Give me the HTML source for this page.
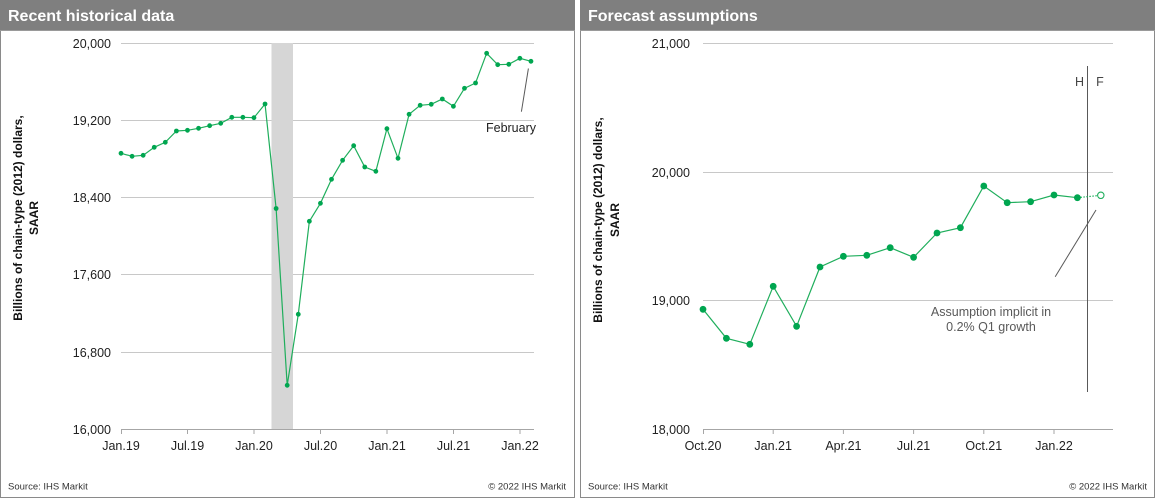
<!DOCTYPE html>
<html>
<head>
<meta charset="utf-8">
<style>
  html,body{margin:0;padding:0;background:#fff;}
  svg{display:block;}
  text{font-family:"Liberation Sans",Arial,sans-serif;}
</style>
</head>
<body>
<svg width="1159" height="499" viewBox="0 0 1159 499" xmlns="http://www.w3.org/2000/svg">
  <!-- LEFT PANEL -->
  <rect x="0.5" y="0.5" width="574" height="497" fill="#fff" stroke="#8a8a8a" stroke-width="1"/>
  <rect x="0" y="0" width="575" height="30" fill="#7f7f7f"/>
  <line x1="0" y1="30.5" x2="575" y2="30.5" stroke="#9a9a9a"/>
  <text x="8" y="21" font-size="16" font-weight="bold" fill="#fff">Recent historical data</text>

  <!-- recession band -->
  <rect x="271.5" y="43" width="21.5" height="386" fill="#d6d6d6"/>

  <!-- gridlines -->
  <g stroke="#c8c8c8" stroke-width="1">
    <line x1="121" y1="43.5" x2="534" y2="43.5"/>
    <line x1="121" y1="120.5" x2="534" y2="120.5"/>
    <line x1="121" y1="197.5" x2="534" y2="197.5"/>
    <line x1="121" y1="274.5" x2="534" y2="274.5"/>
    <line x1="121" y1="352.5" x2="534" y2="352.5"/>
  </g>
  <rect x="271.5" y="43" width="21.5" height="386" fill="#d6d6d6"/>
  <!-- x axis -->
  <g stroke="#a6a6a6" stroke-width="1">
    <line x1="121" y1="429.5" x2="534" y2="429.5"/>
    <line x1="121.5" y1="429" x2="121.5" y2="434"/>
    <line x1="187.5" y1="429" x2="187.5" y2="434"/>
    <line x1="254" y1="429" x2="254" y2="434"/>
    <line x1="320.5" y1="429" x2="320.5" y2="434"/>
    <line x1="387" y1="429" x2="387" y2="434"/>
    <line x1="453.5" y1="429" x2="453.5" y2="434"/>
    <line x1="520" y1="429" x2="520" y2="434"/>
  </g>

  <!-- y labels -->
  <g font-size="12.5" fill="#222" text-anchor="end">
    <text x="111" y="48">20,000</text>
    <text x="111" y="125">19,200</text>
    <text x="111" y="202">18,400</text>
    <text x="111" y="279">17,600</text>
    <text x="111" y="357">16,800</text>
    <text x="111" y="434">16,000</text>
  </g>
  <!-- x labels -->
  <g font-size="12.5" fill="#222" text-anchor="middle">
    <text x="121" y="450">Jan.19</text>
    <text x="187.5" y="450">Jul.19</text>
    <text x="254" y="450">Jan.20</text>
    <text x="320.5" y="450">Jul.20</text>
    <text x="387" y="450">Jan.21</text>
    <text x="453.5" y="450">Jul.21</text>
    <text x="520" y="450">Jan.22</text>
  </g>

  <!-- y axis title -->
  <g font-size="12" font-weight="bold" fill="#111" text-anchor="middle">
    <text transform="translate(22,218) rotate(-90)">Billions of chain-type (2012) dollars,</text>
    <text transform="translate(38,218) rotate(-90)">SAAR</text>
  </g>

  <!-- series -->
  <polyline fill="none" stroke="#1fae5c" stroke-width="1.2" points="
    121,153.3 132.08,156.3 143.16,155.3 154.24,147.3 165.32,142.3 176.4,131 187.48,130.3 198.56,128.3
    209.64,125.7 220.72,123.3 231.8,117.3 242.88,117.3 253.96,117.7 265.04,104 276.12,208.5 287.2,385.3
    298.28,314.3 309.36,221.3 320.44,203.3 331.52,179.3 342.6,160.3 353.68,145.7 364.76,167 375.84,171.3
    386.92,128.7 398,158.3 409.08,114.3 420.16,105.3 431.24,104.3 442.32,99 453.4,106.3 464.48,88.3
    475.56,83 486.64,53.3 497.72,64.7 508.8,64.3 519.88,58.3 530.96,61.3"/>
  <g fill="#00a650">
    <circle cx="121" cy="153.3" r="2.4"/><circle cx="132.08" cy="156.3" r="2.4"/><circle cx="143.16" cy="155.3" r="2.4"/>
    <circle cx="154.24" cy="147.3" r="2.4"/><circle cx="165.32" cy="142.3" r="2.4"/><circle cx="176.4" cy="131" r="2.4"/>
    <circle cx="187.48" cy="130.3" r="2.4"/><circle cx="198.56" cy="128.3" r="2.4"/><circle cx="209.64" cy="125.7" r="2.4"/>
    <circle cx="220.72" cy="123.3" r="2.4"/><circle cx="231.8" cy="117.3" r="2.4"/><circle cx="242.88" cy="117.3" r="2.4"/>
    <circle cx="253.96" cy="117.7" r="2.4"/><circle cx="265.04" cy="104" r="2.4"/><circle cx="276.12" cy="208.5" r="2.4"/>
    <circle cx="287.2" cy="385.3" r="2.4"/><circle cx="298.28" cy="314.3" r="2.4"/><circle cx="309.36" cy="221.3" r="2.4"/>
    <circle cx="320.44" cy="203.3" r="2.4"/><circle cx="331.52" cy="179.3" r="2.4"/><circle cx="342.6" cy="160.3" r="2.4"/>
    <circle cx="353.68" cy="145.7" r="2.4"/><circle cx="364.76" cy="167" r="2.4"/><circle cx="375.84" cy="171.3" r="2.4"/>
    <circle cx="386.92" cy="128.7" r="2.4"/><circle cx="398" cy="158.3" r="2.4"/><circle cx="409.08" cy="114.3" r="2.4"/>
    <circle cx="420.16" cy="105.3" r="2.4"/><circle cx="431.24" cy="104.3" r="2.4"/><circle cx="442.32" cy="99" r="2.4"/>
    <circle cx="453.4" cy="106.3" r="2.4"/><circle cx="464.48" cy="88.3" r="2.4"/><circle cx="475.56" cy="83" r="2.4"/>
    <circle cx="486.64" cy="53.3" r="2.4"/><circle cx="497.72" cy="64.7" r="2.4"/><circle cx="508.8" cy="64.3" r="2.4"/>
    <circle cx="519.88" cy="58.3" r="2.4"/><circle cx="530.96" cy="61.3" r="2.4"/>
  </g>

  <!-- February annotation -->
  <line x1="528.4" y1="68.5" x2="521.4" y2="111.7" stroke="#595959" stroke-width="1"/>
  <text x="511" y="132" font-size="12.5" fill="#222" text-anchor="middle">February</text>

  <!-- footer -->
  <text x="8" y="489.5" font-size="9.5" fill="#333">Source:  IHS Markit</text>
  <text x="566" y="489.5" font-size="9.5" fill="#333" text-anchor="end">© 2022  IHS Markit</text>

  <!-- RIGHT PANEL -->
  <rect x="580.5" y="0.5" width="574" height="497" fill="#fff" stroke="#8a8a8a" stroke-width="1"/>
  <rect x="580" y="0" width="575" height="30" fill="#7f7f7f"/>
  <line x1="580" y1="30.5" x2="1155" y2="30.5" stroke="#9a9a9a"/>
  <text x="588" y="21" font-size="16" font-weight="bold" fill="#fff">Forecast assumptions</text>

  <g stroke="#c8c8c8" stroke-width="1">
    <line x1="703" y1="43.5" x2="1113" y2="43.5"/>
    <line x1="703" y1="172.5" x2="1113" y2="172.5"/>
    <line x1="703" y1="300.5" x2="1113" y2="300.5"/>
  </g>
  <g stroke="#a6a6a6" stroke-width="1">
    <line x1="703" y1="429.5" x2="1113" y2="429.5"/>
    <line x1="703.5" y1="429" x2="703.5" y2="434"/>
    <line x1="773.2" y1="429" x2="773.2" y2="434"/>
    <line x1="843.4" y1="429" x2="843.4" y2="434"/>
    <line x1="913.6" y1="429" x2="913.6" y2="434"/>
    <line x1="983.8" y1="429" x2="983.8" y2="434"/>
    <line x1="1054" y1="429" x2="1054" y2="434"/>
  </g>

  <g font-size="12.5" fill="#222" text-anchor="end">
    <text x="690" y="48">21,000</text>
    <text x="690" y="177">20,000</text>
    <text x="690" y="305">19,000</text>
    <text x="690" y="434">18,000</text>
  </g>
  <g font-size="12.5" fill="#222" text-anchor="middle">
    <text x="703" y="450">Oct.20</text>
    <text x="773.2" y="450">Jan.21</text>
    <text x="843.4" y="450">Apr.21</text>
    <text x="913.6" y="450">Jul.21</text>
    <text x="983.8" y="450">Oct.21</text>
    <text x="1054" y="450">Jan.22</text>
  </g>

  <g font-size="12" font-weight="bold" fill="#111" text-anchor="middle">
    <text transform="translate(602,220) rotate(-90)">Billions of chain-type (2012) dollars,</text>
    <text transform="translate(619,220) rotate(-90)">SAAR</text>
  </g>

  <!-- H/F divider -->
  <line x1="1087.5" y1="66" x2="1087.5" y2="392" stroke="#595959" stroke-width="1"/>
  <text x="1079.5" y="86" font-size="12.5" fill="#444" text-anchor="middle">H</text>
  <text x="1100" y="86" font-size="12.5" fill="#444" text-anchor="middle">F</text>

  <!-- series -->
  <polyline fill="none" stroke="#1fae5c" stroke-width="1.2" points="
    703,309.3 726.4,338.3 749.8,344.3 773.2,286.3 796.6,326.3 820,267 843.4,256.3 866.8,255.3
    890.2,247.7 913.6,257.3 937,233 960.4,227.7 983.8,186 1007.2,202.7 1030.6,201.7 1054,195 1077.4,197.7"/>
  <line x1="1077.4" y1="197.7" x2="1100.8" y2="195.3" stroke="#1fae5c" stroke-width="1.2" stroke-dasharray="1.5,1.5"/>
  <g fill="#00a650">
    <circle cx="703" cy="309.3" r="3.4"/><circle cx="726.4" cy="338.3" r="3.4"/><circle cx="749.8" cy="344.3" r="3.4"/>
    <circle cx="773.2" cy="286.3" r="3.4"/><circle cx="796.6" cy="326.3" r="3.4"/><circle cx="820" cy="267" r="3.4"/>
    <circle cx="843.4" cy="256.3" r="3.4"/><circle cx="866.8" cy="255.3" r="3.4"/><circle cx="890.2" cy="247.7" r="3.4"/>
    <circle cx="913.6" cy="257.3" r="3.4"/><circle cx="937" cy="233" r="3.4"/><circle cx="960.4" cy="227.7" r="3.4"/>
    <circle cx="983.8" cy="186" r="3.4"/><circle cx="1007.2" cy="202.7" r="3.4"/><circle cx="1030.6" cy="201.7" r="3.4"/>
    <circle cx="1054" cy="195" r="3.4"/><circle cx="1077.4" cy="197.7" r="3.4"/>
  </g>
  <circle cx="1100.8" cy="195.3" r="3.2" fill="#fff" stroke="#1fae5c" stroke-width="1.1"/>

  <!-- annotation -->
  <line x1="1096" y1="210" x2="1055.2" y2="276.7" stroke="#595959" stroke-width="1"/>
  <g font-size="12.5" fill="#595959" text-anchor="middle">
    <text x="991" y="316">Assumption implicit in</text>
    <text x="991" y="331">0.2%  Q1 growth</text>
  </g>

  <!-- footer -->
  <text x="588" y="489.5" font-size="9.5" fill="#333">Source:  IHS Markit</text>
  <text x="1147" y="489.5" font-size="9.5" fill="#333" text-anchor="end">© 2022  IHS Markit</text>
</svg>
</body>
</html>
